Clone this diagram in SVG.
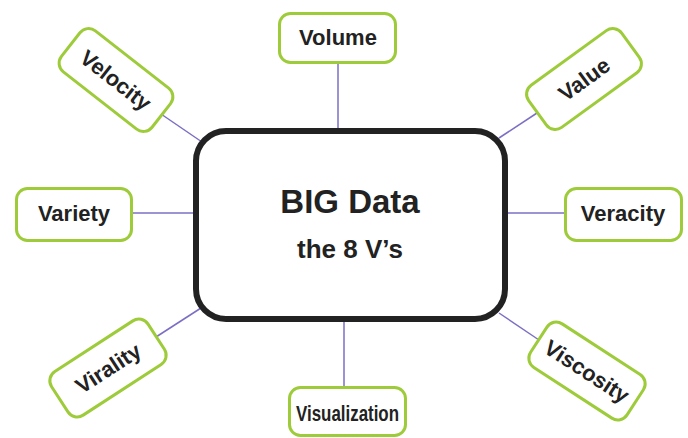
<svg xmlns="http://www.w3.org/2000/svg" width="688" height="438" viewBox="0 0 688 438">
<style>
.v{fill:#ffffff;stroke:#9dcb3a;stroke-width:3}
.t{font-family:"Liberation Sans",Arial,sans-serif;font-weight:bold;font-size:22px;fill:#222222;text-anchor:middle}
.c{stroke:#7a6fc4;stroke-width:1.5;fill:none}
.m{fill:#ffffff;stroke:#222222;stroke-width:6}
.mt{font-family:"Liberation Sans",Arial,sans-serif;font-weight:bold;fill:#222222;text-anchor:middle}
</style>
<rect width="688" height="438" fill="#ffffff"/>
<g id="connectors">
<line class="c" x1="338" y1="64" x2="338" y2="130"/>
<line class="c" x1="133" y1="213" x2="196" y2="213"/>
<line class="c" x1="508" y1="213" x2="564" y2="213"/>
<line class="c" x1="344" y1="320" x2="344" y2="387"/>
<line class="c" x1="161" y1="114" x2="202" y2="142"/>
<line class="c" x1="537" y1="113" x2="499" y2="138"/>
<line class="c" x1="156" y1="337" x2="201" y2="308"/>
<line class="c" x1="539" y1="340" x2="499" y2="313"/>
</g>
<g id="center">
<rect class="m" x="196" y="131" width="309" height="188" rx="30"/>
<text class="mt" x="350" y="213" font-size="33">BIG Data</text>
<text class="mt" x="350" y="258" font-size="26">the 8 V’s</text>
</g>
<g id="volume">
<rect class="v" x="279.5" y="13.5" width="116" height="49" rx="11"/>
<text class="t" x="338" y="45">Volume</text>
</g>
<g id="variety">
<rect class="v" x="16.5" y="188.5" width="115" height="52" rx="11"/>
<text class="t" x="74" y="221">Variety</text>
</g>
<g id="veracity">
<rect class="v" x="565.5" y="188.5" width="116" height="52" rx="11"/>
<text class="t" x="623" y="221">Veracity</text>
</g>
<g id="visualization">
<rect class="v" x="289.5" y="387.5" width="116" height="48" rx="11"/>
<text class="t" x="347.5" y="421" textLength="103" lengthAdjust="spacingAndGlyphs">Visualization</text>
</g>
<g id="velocity" transform="translate(116,80) rotate(38)">
<rect class="v" x="-57.5" y="-26" width="115" height="52" rx="11"/>
<text class="t" x="0" y="8">Velocity</text>
</g>
<g id="value" transform="translate(584,79) rotate(-36)">
<rect class="v" x="-57.5" y="-26" width="115" height="52" rx="11"/>
<text class="t" x="0" y="8">Value</text>
</g>
<g id="virality" transform="translate(108,368) rotate(-33)">
<rect class="v" x="-57.5" y="-26" width="115" height="52" rx="11"/>
<text class="t" x="0" y="8">Virality</text>
</g>
<g id="viscosity" transform="translate(587,371) rotate(33)">
<rect class="v" x="-57.5" y="-26" width="115" height="52" rx="11"/>
<text class="t" x="0" y="8">Viscosity</text>
</g>
</svg>
